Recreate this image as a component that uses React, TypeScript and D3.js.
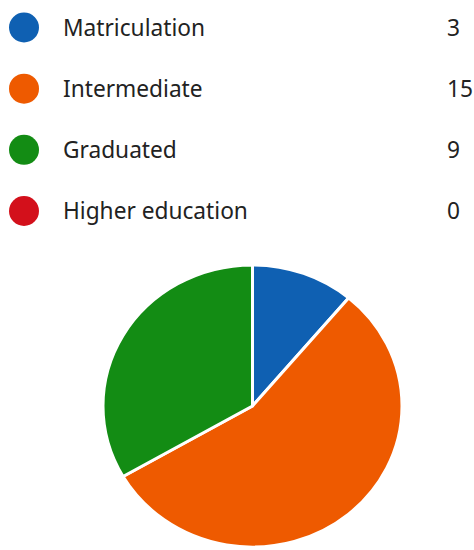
import React from "react";
import * as d3 from "d3";

const categories = ["Matriculation", "Intermediate", "Graduated", "Higher education"];
const counts = [3, 15, 9, 0];
const colors = ["#0F60B2", "#EE5A00", "#138C14", "#D3101B"];

const W = 474;
const H = 550;

export default function App() {
  const rowY = d3.scalePoint<string>().domain(categories).range([27.5, 211]);
  const pie = d3.pie<number>().sort(null).value((d) => d);
  const arcs = pie(counts);
  const rx = 149.5;
  const ry = 141;
  const arc = d3.arc<d3.PieArcDatum<number>>().innerRadius(0).outerRadius(rx);
  return (
    <svg
      width={W}
      height={H}
      style={{ position: "absolute", left: 0, top: 0, background: "#fff" }}
      fontFamily="'Noto Sans', sans-serif"
    >
      <rect width={W} height={H} fill="#fff" />
      {categories.map((c, i) => {
        const y = rowY(c)!;
        return (
          <g key={c}>
            <circle cx={24} cy={y} r={15} fill={colors[i]} />
            <text x={63} y={y + 8} fontSize={22.7} fill="#222">
              {c}
            </text>
            <text x={447} y={y + 8} fontSize={22.7} fill="#222">
              {counts[i]}
            </text>
          </g>
        );
      })}
      <g transform={`translate(252.5,406) scale(1,${ry / rx})`}>
        {arcs.map((a, i) =>
          a.value > 0 ? (
            <path key={i} d={arc(a) || ""} fill={colors[i]} stroke="#fff" strokeWidth={3} strokeLinejoin="round" />
          ) : null
        )}
      </g>
    </svg>
  );
}
